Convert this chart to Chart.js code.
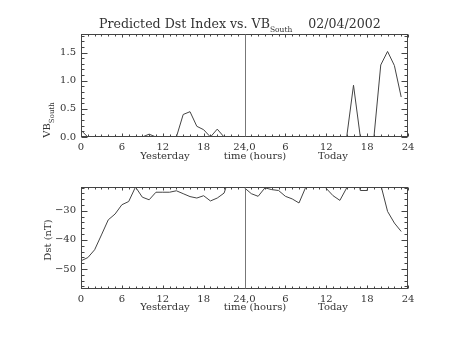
<!DOCTYPE html>
<html><head><meta charset="utf-8">
<script src="https://cdn.jsdelivr.net/npm/chart.js@4/dist/chart.umd.min.js"></script>
<style>
body{margin:0;background:#fff;width:454px;height:341px;position:relative;overflow:hidden;font-family:"DejaVu Serif",serif;color:#333}
canvas{position:absolute;left:0}
.t{position:absolute;white-space:nowrap;font-size:10px;line-height:1}
.r{transform:translate(-50%,-50%) rotate(-90deg)}
.c{transform:translate(-50%,-50%)}
sub{font-size:7px;vertical-align:-4px}
</style></head><body>
<canvas id="c1" width="454" height="170" style="top:0"></canvas>
<canvas id="c2" width="454" height="171" style="top:170px"></canvas>

<div class="t" style="left:99px;top:18px;font-size:12.6px">Predicted Dst Index vs. VB<sub style="font-size:7.5px">South</sub>&nbsp;&nbsp;&nbsp;&nbsp;02/04/2002</div>
<div class="t r" style="left:49px;top:120px">VB<sub>South</sub></div>
<div class="t r" style="left:48px;top:240px">Dst (nT)</div>
<div class="t c" style="left:165px;top:156px">Yesterday</div>
<div class="t c" style="left:255px;top:156px">time (hours)</div>
<div class="t c" style="left:333px;top:156px">Today</div>
<div class="t c" style="left:165px;top:307px">Yesterday</div>
<div class="t c" style="left:255px;top:307px">time (hours)</div>
<div class="t c" style="left:333px;top:307px">Today</div>

<script>
const hours = [0,1,2,3,4,5,6,7,8,9,10,11,12,13,14,15,16,17,18,19,20,21,22,23,
               24,25,26,27,28,29,30,31,32,33,34,35,36,37,38,39,40,41,42,43,44,45,46,47];
const vbSouth = [0.12,0,0,0,0,0,0,0,0,0,0.05,0,0,0,0,0.40,0.45,0.19,0.13,0,0.14,0,0,0,
                 0,0,0,0,0,0,0,0,0,0,0,0,0,0,0,0,0.92,0,0,0,1.28,1.52,1.27,0.71];
const dst = [-47.2,-46.1,-43.4,-38.3,-33.1,-31.1,-27.9,-26.8,-21.8,-25.3,-26.2,-23.6,-23.6,-23.6,-23.1,-24.1,-25.1,-25.6,-24.8,-26.6,-25.6,-23.9,-17,-18,
             -22.1,-24.1,-25.0,-22.1,-22.7,-23.0,-25.0,-25.9,-27.3,-21.8,-15,-18,-22.3,-24.8,-26.4,-22.1,-10,-23.0,-23.0,-10,-21,-30.2,-34.2,-37.1];
const xTickLabels = {0:"0",6:"6",12:"12",18:"18",24:"24,0",30:"6",36:"12",42:"18",48:"24"};

const INK = '#444';
const FONT = {family:'"DejaVu Serif", serif', size:10};

const framePlugin = {
  id:'frame',
  afterDatasetsDraw(chart, args, o){
    const {ctx, chartArea:a, scales:{x,y}} = chart;
    ctx.save();
    ctx.strokeStyle = INK; ctx.lineWidth = 1;
    const L = (x1,y1,x2,y2)=>{ctx.beginPath();ctx.moveTo(x1,y1);ctx.lineTo(x2,y2);ctx.stroke();};
    const l = a.left+0.5, r = Math.round(a.right)-0.5, t = a.top+0.5, b = Math.round(a.bottom)-0.5;
    ctx.strokeRect(l, t, r-l, b-t);
    for(let h=0; h<=48; h++){
      const px = Math.round(x.getPixelForValue(h))+0.5;
      const len = h%6===0 ? o.xMaj : o.xMin;
      L(px,b,px,b-len); L(px,t,px,t+len);
    }
    for(let v=o.yFirst; v<=y.max+1e-9; v+=o.yMinor){
      const vv = Math.round(v*1000)/1000;
      const py = Math.round(y.getPixelForValue(vv))+0.5;
      const maj = Math.abs(vv/o.yMajor - Math.round(vv/o.yMajor))<1e-6;
      const len = maj ? o.yMaj : o.yMin;
      L(l,py,l+len,py); L(r,py,r-len,py);
    }
    ctx.strokeStyle = '#777';
    const d = Math.round(x.getPixelForValue(24))+0.5;
    L(d,t,d,b);
    ctx.restore();
  }
};

function makeChart(id, values, yMin, yMax, step, fmt, padTop, padBottom, frameOpts){
  return new Chart(document.getElementById(id), {
    type:'line',
    data:{datasets:[{data: hours.map((h,i)=>({x:h,y:values[i]})), borderColor:INK, borderWidth:1, pointRadius:0, tension:0, fill:false}]},
    options:{
      responsive:false, animation:false,
      layout:{padding:{top:padTop,left:0,right:46,bottom:padBottom}},
      plugins:{legend:{display:false}, tooltip:{enabled:false}, frame:frameOpts},
      scales:{
        x:{type:'linear', min:0, max:48,
           grid:{display:false, drawTicks:false}, border:{display:false},
           ticks:{stepSize:6, autoSkip:false, maxRotation:0, padding:4, color:'#333', font:FONT,
                  callback:v=>xTickLabels[v] ?? ''},
           afterFit:s=>{s.height=33;}},
        y:{type:'linear', min:yMin, max:yMax,
           grid:{display:false, drawTicks:false}, border:{display:false},
           ticks:{stepSize:step, includeBounds:false, padding:5, color:'#333', font:FONT, callback:fmt},
           afterFit:s=>{s.width=81;}}
      }
    },
    plugins:[framePlugin]
  });
}

makeChart('c1', vbSouth, 0, 1.83, 0.5, v=>v.toFixed(1), 34, 0,
  {xMaj:3, xMin:2, yMaj:6, yMin:3, yFirst:0, yMinor:0.1, yMajor:0.5});
makeChart('c2', dst, -56.9, -21.8, 10, v=>(v<0?'\u2212':'')+Math.abs(v), 17, 19,
  {xMaj:3, xMin:2, yMaj:6, yMin:3, yFirst:-56, yMinor:2, yMajor:10});
</script>
</body></html>
